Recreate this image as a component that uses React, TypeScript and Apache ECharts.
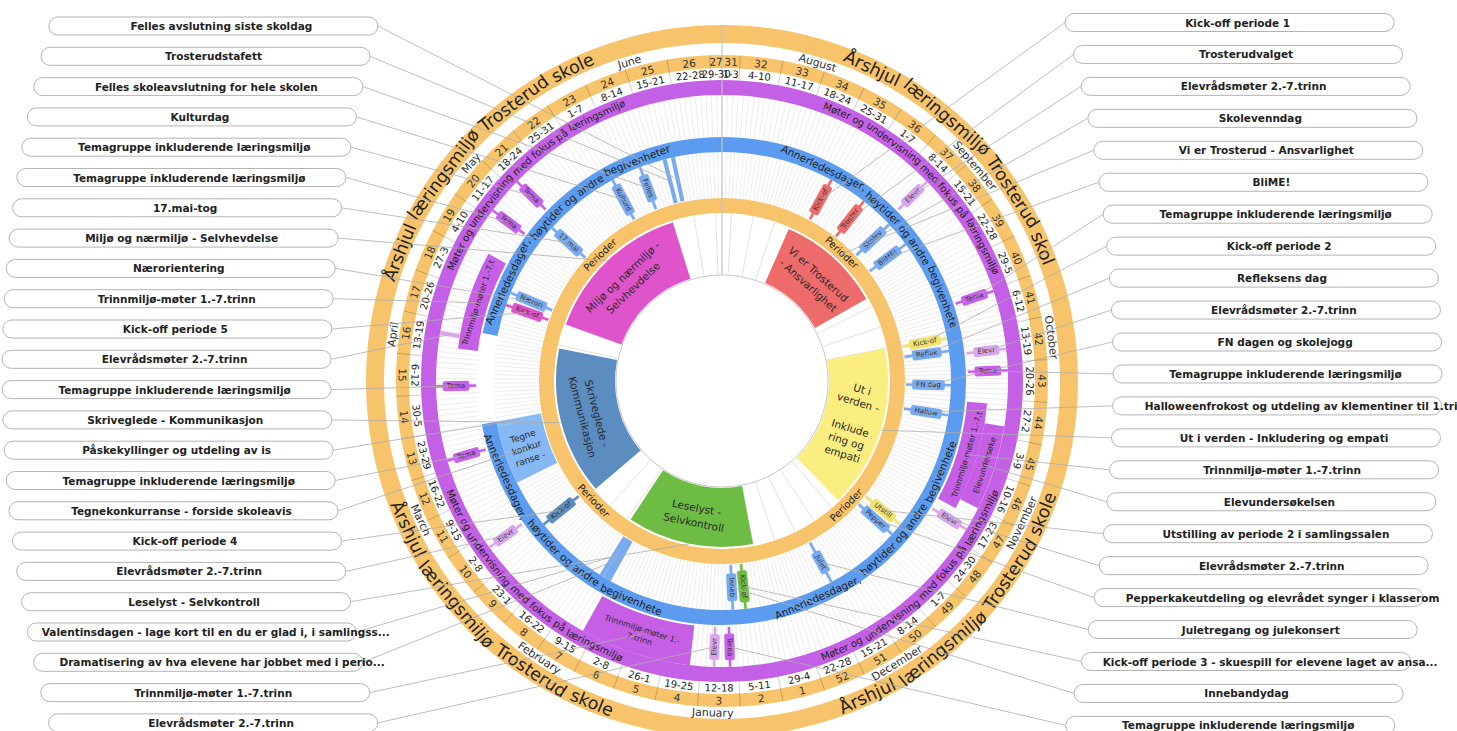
import { useEffect, useRef } from 'react';
import * as echarts from 'echarts';

// ---------------- data ----------------
const WHEEL_START_UTC = Date.UTC(2025, 7, 1); // 1 Aug 2025
const WHEEL_DAYS = 334; // up to and including 30 Jun 2026

const MONTH_NAMES = ['August', 'September', 'October', 'November', 'December', 'January', 'February', 'March', 'April', 'May', 'June'];
const MONTH_LENGTHS = [31, 30, 31, 30, 31, 31, 28, 31, 30, 31, 30];

const WEEK_NUMBERS = [31, 32, 33, 34, 35, 36, 37, 38, 39, 40, 41, 42, 43, 44, 45, 46, 47, 48, 49, 50, 51, 52, 1, 2, 3, 4, 5, 6, 7, 8, 9, 10, 11, 12, 13, 14, 15, 16, 17, 18, 19, 20, 21, 22, 23, 24, 25, 26, 27];
const WEEK_DATES = ['1-3', '4-10', '11-17', '18-24', '25-31', '1-7', '8-14', '15-21', '22-28', '29-5', '6-12', '13-19', '20-26', '27-2', '3-9', '10-16', '17-23', '24-30', '1-7', '8-14', '15-21', '22-28', '29-4', '5-11', '12-18', '19-25', '26-1', '2-8', '9-15', '16-22', '23-1', '2-8', '9-15', '16-22', '23-29', '30-5', '6-12', '13-19', '20-26', '27-3', '4-10', '11-17', '18-24', '25-31', '1-7', '8-14', '15-21', '22-28', '29-30'];

const RING_TITLE = 'Årshjul læringsmiljø Trosterud skole';
const RING_MEETINGS = 'Møter og undervisning med fokus på læringsmiljø';
const RING_SPECIAL = 'Annerledesdager, høytider og andre begivenheter';
const RING_PERIODS = 'Perioder';

const PERIOD_IDS = ['P1', 'P2', 'P3', 'P4', 'P5'];
const PERIOD_LABELS = ['Vi er Trosterud\n- Ansvarlighet', 'Ut i\nverden -\n\nInklude\nring og\nempati', 'Leselyst -\nSelvkontroll', 'Skriveglede -\nKommunikasjon', 'Miljø og nærmiljø -\nSelvhevdelse'];
const PERIOD_FIRST = ['2025-08-23', '2025-10-13', '2026-01-05', '2026-03-02', '2026-04-27'];
const PERIOD_LAST = ['2025-09-25', '2025-12-04', '2026-02-14', '2026-04-18', '2026-06-14'];

// ring "Møter og undervisning ..." : [id, kind, first day, last day, short label, lane]
const MEETING_EVENTS: [string, string, string, string, string, string][] = [
  ['elevr1', 'elevr', '2025-09-12', '2025-09-12', 'Elevr', 'full'],
  ['tema1', 'tema', '2025-10-06', '2025-10-06', 'Tema', 'full'],
  ['elevr2', 'elevr', '2025-10-17', '2025-10-17', 'Elevr', 'full'],
  ['tema2', 'tema', '2025-10-21', '2025-10-21', 'Tema', 'full'],
  ['trinn1', 'trinn', '2025-10-28', '2025-11-18', 'Trinnmiljø-møter 1.-7.t', 'inner'],
  ['elevund', 'trinn', '2025-11-01', '2025-11-16', 'Elevundersøke', 'outer'],
  ['elevr3', 'elevr', '2025-11-21', '2025-11-21', 'Elevr', 'full'],
  ['tema3', 'tema', '2026-01-13', '2026-01-13', 'Tema', 'full'],
  ['elevr4', 'elevr', '2026-01-16', '2026-01-16', 'Elevr', 'full'],
  ['trinn2', 'trinn', '2026-01-21', '2026-02-10', 'Trinnmiljø-møter 1.-\n7.trinn', 'full'],
  ['elevr5', 'elevr', '2026-03-06', '2026-03-06', 'Elevr', 'full'],
  ['tema4', 'tema', '2026-03-24', '2026-03-24', 'Tema', 'full'],
  ['tema5', 'tema', '2026-04-07', '2026-04-07', 'Tema', 'full'],
  ['trinn3', 'trinn', '2026-04-15', '2026-05-04', 'Trinnmiljø-møter 1.-7.t', 'inner'],
  ['elevr6', 'elevr', '2026-04-17', '2026-04-17', '', 'outer'],
  ['tema6', 'tema', '2026-05-12', '2026-05-12', 'Tema', 'full'],
  ['tema7', 'tema', '2026-05-19', '2026-05-19', 'Tema', 'full'],
];

// ring "Annerledesdager ..." : [id, kind, first day, last day, short label]
const SPECIAL_DAYS: [string, string, string, string, string][] = [
  ['k1', 'p1', '2025-08-27', '2025-08-27', 'Kick-of'],
  ['valget', 'p1', '2025-09-05', '2025-09-05', 'Troster'],
  ['skolev', 'event', '2025-09-13', '2025-09-13', 'Skolev'],
  ['blime', 'event', '2025-09-19', '2025-09-19', 'BliME!'],
  ['k2', 'p2', '2025-10-13', '2025-10-13', 'Kick-of'],
  ['reflek', 'event', '2025-10-16', '2025-10-16', 'Reflek'],
  ['fn', 'event', '2025-10-24', '2025-10-24', 'FN dag'],
  ['hallow', 'event', '2025-10-31', '2025-10-31', 'Hallow'],
  ['utstill', 'p2', '2025-11-28', '2025-11-28', 'Utstill'],
  ['pepper', 'event', '2025-12-01', '2025-12-01', 'Pepper'],
  ['julet', 'event', '2025-12-19', '2025-12-19', 'Julet'],
  ['k3', 'p3', '2026-01-09', '2026-01-09', 'Kick-of'],
  ['inneb', 'event', '2026-01-12', '2026-01-12', 'Inneb'],
  ['dramat', 'event', '2026-02-11', '2026-02-12', ''],
  ['valentin', 'event', '2026-02-13', '2026-02-13', ''],
  ['k4', 'p4', '2026-03-03', '2026-03-03', 'Kick-of'],
  ['tegne', 'draw', '2026-03-15', '2026-03-28', 'Tegne\nkonkur\nranse -'],
  ['paske', 'draw', '2026-03-29', '2026-03-29', ''],
  ['k5', 'p5', '2026-04-26', '2026-04-26', 'Kick-of'],
  ['naerori', 'event', '2026-04-29', '2026-04-29', 'Nærori'],
  ['mai17', 'event', '2026-05-17', '2026-05-17', '17.mai'],
  ['kultur', 'event', '2026-06-04', '2026-06-04', 'Kulturd'],
  ['felles', 'event', '2026-06-11', '2026-06-11', 'Felles'],
  ['stafett', 'event', '2026-06-17', '2026-06-17', ''],
  ['avsl', 'event', '2026-06-19', '2026-06-19', ''],
];

// callout boxes, top to bottom: [target id, text]
const CALLOUTS_LEFT: [string, string][] = [
  ['avsl', 'Felles avslutning siste skoldag'],
  ['stafett', 'Trosterudstafett'],
  ['felles', 'Felles skoleavslutning for hele skolen'],
  ['kultur', 'Kulturdag'],
  ['tema7', 'Temagruppe inkluderende læringsmiljø'],
  ['tema6', 'Temagruppe inkluderende læringsmiljø'],
  ['mai17', '17.mai-tog'],
  ['P5', 'Miljø og nærmiljø - Selvhevdelse'],
  ['naerori', 'Nærorientering'],
  ['trinn3', 'Trinnmiljø-møter 1.-7.trinn'],
  ['k5', 'Kick-off periode 5'],
  ['elevr6', 'Elevrådsmøter 2.-7.trinn'],
  ['tema5', 'Temagruppe inkluderende læringsmiljø'],
  ['P4', 'Skriveglede - Kommunikasjon'],
  ['paske', 'Påskekyllinger og utdeling av is'],
  ['tema4', 'Temagruppe inkluderende læringsmiljø'],
  ['tegne', 'Tegnekonkurranse - forside skoleavis'],
  ['k4', 'Kick-off periode 4'],
  ['elevr5', 'Elevrådsmøter 2.-7.trinn'],
  ['P3', 'Leselyst - Selvkontroll'],
  ['valentin', 'Valentinsdagen - lage kort til en du er glad i, i samlingss...'],
  ['dramat', 'Dramatisering av hva elevene har jobbet med i perio...'],
  ['trinn2', 'Trinnmiljø-møter 1.-7.trinn'],
  ['elevr4', 'Elevrådsmøter 2.-7.trinn'],
];
const CALLOUTS_RIGHT: [string, string][] = [
  ['k1', 'Kick-off periode 1'],
  ['valget', 'Trosterudvalget'],
  ['elevr1', 'Elevrådsmøter 2.-7.trinn'],
  ['skolev', 'Skolevenndag'],
  ['P1', 'Vi er Trosterud - Ansvarlighet'],
  ['blime', 'BliME!'],
  ['tema1', 'Temagruppe inkluderende læringsmiljø'],
  ['k2', 'Kick-off periode 2'],
  ['reflek', 'Refleksens dag'],
  ['elevr2', 'Elevrådsmøter 2.-7.trinn'],
  ['fn', 'FN dagen og skolejogg'],
  ['tema2', 'Temagruppe inkluderende læringsmiljø'],
  ['hallow', 'Halloweenfrokost og utdeling av klementiner til 1.tri'],
  ['P2', 'Ut i verden - Inkludering og empati'],
  ['trinn1', 'Trinnmiljø-møter 1.-7.trinn'],
  ['elevund', 'Elevundersøkelsen'],
  ['utstill', 'Utstilling av periode 2 i samlingssalen'],
  ['elevr3', 'Elevrådsmøter 2.-7.trinn'],
  ['pepper', 'Pepperkakeutdeling og elevrådet synger i klasserom'],
  ['julet', 'Juletregang og julekonsert'],
  ['k3', 'Kick-off periode 3 - skuespill for elevene laget av ansa...'],
  ['inneb', 'Innebandydag'],
  ['tema3', 'Temagruppe inkluderende læringsmiljø'],
];

// ---------------- layout & style ----------------
const FONT = '"DejaVu Sans", Verdana, sans-serif';
const CX = 722;
const CY = 381;
const R_MAX = 356;
const LR = {
  core: 106, secIn: 107, secOut: 166, perIn: 168, perOut: 183,
  blueAreaIn: 183, blueIn: 229, blueOut: 244, purpleAreaIn: 244,
  purpleIn: 286, purpleOut: 301, dateMid: 307, weekIn: 313, weekMid: 319.5, weekOut: 326,
  monthMid: 332, titleIn: 338, titleOut: 356,
};
const ORANGE = '#f7c46b';
const PURPLE = '#c460e6';
const BLUE = '#5c9cf0';
const PERIOD_COLORS = ['#ee6b6b', '#fbee80', '#6dbd44', '#5b8dc1', '#df53cb'];
const PERIOD_ORIENT = ['tan', 'rad', 'tan', 'tan', 'tan'];
const KIND_COLORS: Record<string, string> = {
  tema: '#c862e8', elevr: '#d9a6ee', trinn: '#c65fe6', event: '#78aaf2', draw: '#86b8f6',
  p1: '#ee6b6b', p2: '#f2e36c', p3: '#6dbd44', p4: '#5b8dc1', p5: '#df53cb',
};
// ring label instances: [text, radius, centre angle in degrees, reads clockwise?, font size]
const RING_LABEL_LAYOUT: [string, number, number, boolean, number][] = [
  [RING_TITLE, 347, 312.5, true, 17.5],
  [RING_TITLE.replace(/e$/, ''), 347, 45.5, true, 17.5],
  [RING_TITLE, 347, 134.5, false, 17.5],
  [RING_TITLE, 347, 224, false, 17.5],
  [RING_MEETINGS, 293.5, 316.5, true, 10],
  [RING_MEETINGS, 293.5, 44.5, true, 10],
  [RING_MEETINGS, 293.5, 136, false, 10],
  [RING_MEETINGS, 293.5, 224, false, 10],
  [RING_SPECIAL, 236.5, 315.5, true, 10.5],
  [RING_SPECIAL.replace(/r$/, ''), 236.5, 45.7, true, 10.5],
  [RING_SPECIAL.replace(/r$/, ''), 236.5, 136, false, 10.5],
  [RING_SPECIAL.replace(/r$/, ''), 236.5, 226, false, 10.5],
  [RING_PERIODS, 175.5, 316, true, 10],
  [RING_PERIODS, 175.5, 43, true, 10],
  [RING_PERIODS, 175.5, 135, false, 10],
  [RING_PERIODS, 175.5, 227, false, 10],
];
// ring bands: [r0, r1, first day, end day, colour]
const RING_BANDS: [number, number, number, number, string][] = [
  [LR.titleIn, LR.titleOut, 0, WHEEL_DAYS, ORANGE],
  [LR.weekIn, LR.weekOut, 0, WHEEL_DAYS, ORANGE],
  [LR.purpleIn, LR.purpleOut, 0, WHEEL_DAYS, PURPLE],
  [LR.blueIn, LR.blueOut, 0, 241, BLUE],
  [LR.blueIn, LR.blueOut, 261, WHEEL_DAYS, BLUE],
  [LR.perIn, LR.perOut, 0, WHEEL_DAYS, ORANGE],
];

// ---------------- helpers ----------------
const dayOf = (s: string) => {
  const [y, m, d] = s.split('-').map(Number);
  return Math.round((Date.UTC(y, m - 1, d) - WHEEL_START_UTC) / 86400000);
};

let measureCtx: CanvasRenderingContext2D | null = null;
function measure(text: string, size: number, weight = 'normal') {
  if (!measureCtx) measureCtx = document.createElement('canvas').getContext('2d');
  if (!measureCtx) return text.length * size * 0.6;
  measureCtx.font = `${weight} ${size}px ${FONT}`;
  return measureCtx.measureText(text).width;
}

function geo(api: any) {
  const c = api.coord([0, 0]);
  const P = (r: number, d: number) => api.coord([r, d]);
  const R = (r: number) => {
    const p = api.coord([r, 0]);
    return Math.hypot(p[0] - c[0], p[1] - c[1]);
  };
  const th = (d: number) => {
    const p = api.coord([200, d]);
    let t = Math.atan2(p[0] - c[0], c[1] - p[1]);
    if (t < 0) t += 2 * Math.PI;
    return t;
  };
  const za = (d: number) => {
    const p = api.coord([200, d]);
    return Math.atan2(p[1] - c[1], p[0] - c[0]);
  };
  const rpd = th(10) / 10;
  return { c, P, R, th, za, rpd };
}
type Geo = ReturnType<typeof geo>;

function sec(g: Geo, r0: number, r1: number, d0: number, d1: number, style: any) {
  const a0 = g.za(d0);
  let a1 = g.za(d1);
  while (a1 <= a0 + 1e-7) a1 += 2 * Math.PI;
  return {
    type: 'sector',
    shape: { cx: g.c[0], cy: g.c[1], r0: g.R(r0), r: g.R(r1), startAngle: a0, endAngle: a1, clockwise: true },
    style,
  };
}
function seg(g: Geo, r0: number, r1: number, d: number, stroke: string, lineWidth: number) {
  const a = g.P(r0, d);
  const b = g.P(r1, d);
  return { type: 'line', shape: { x1: a[0], y1: a[1], x2: b[0], y2: b[1] }, style: { stroke, lineWidth } };
}
function txt(x: number, y: number, rotation: number, text: string, size: number, extra: any = {}) {
  return {
    type: 'text', x, y, rotation,
    style: Object.assign({ text, fontSize: size, fontFamily: FONT, fill: '#333', align: 'center', verticalAlign: 'middle' }, extra),
  };
}
function arcWords(g: Geo, text: string, r: number, centerDay: number, upper: boolean, size: number, fill: string) {
  const words = text.split(' ');
  const sp = measure(' ', size);
  const ws = words.map((w) => measure(w, size));
  const total = ws.reduce((a, b) => a + b, 0) + sp * (words.length - 1);
  const rpx = g.R(r);
  let s = -total / 2;
  return words.map((w, i) => {
    const off = s + ws[i] / 2;
    s += ws[i] + sp;
    const dd = off / rpx / g.rpd;
    const d = upper ? centerDay + dd : centerDay - dd;
    const p = g.P(r, d);
    const t = g.th(d);
    return txt(p[0], p[1], upper ? -t : Math.PI - t, w, size, { fill });
  });
}
const tickRot = (t: number) => {
  const deg = (t * 180) / Math.PI;
  return deg >= 114 && deg <= 275 ? Math.PI - t : -t;
};
const radialRot = (t: number) => (t < Math.PI ? Math.PI / 2 - t : (3 * Math.PI) / 2 - t);
const tanRot = (t: number) => (t > Math.PI / 2 && t < (3 * Math.PI) / 2 ? Math.PI - t : -t);

type Ev = { id: string; ring: 'P' | 'B'; kind: string; first: number; last: number; tag: string; lane: string };
const EVENTS: Ev[] = [
  ...MEETING_EVENTS.map(([id, kind, a, b, tag, lane]) => ({ id, ring: 'P' as const, kind, first: dayOf(a), last: dayOf(b), tag, lane })),
  ...SPECIAL_DAYS.map(([id, kind, a, b, tag]) => ({ id, ring: 'B' as const, kind, first: dayOf(a), last: dayOf(b), tag, lane: 'full' })),
];
function laneOf(ev: Ev): [number, number] {
  if (ev.ring === 'B') return [184, LR.blueIn];
  if (ev.lane === 'inner') return [246, 266];
  if (ev.lane === 'outer') return [266, LR.purpleIn];
  return [246, LR.purpleIn];
}
function targetOf(id: string): [number, number] {
  const pi = PERIOD_IDS.indexOf(id);
  if (pi >= 0) return [LR.secOut, (dayOf(PERIOD_FIRST[pi]) + dayOf(PERIOD_LAST[pi]) + 1) / 2];
  const ev = EVENTS.find((e) => e.id === id)!;
  const [r0, r1] = laneOf(ev);
  return [(r0 + r1) / 2, (ev.first + ev.last + 1) / 2];
}

type Callout = { side: 'L' | 'R'; row: number; id: string; text: string };
const CALLOUTS: Callout[] = [
  ...CALLOUTS_LEFT.map(([id, text], row) => ({ side: 'L' as const, row, id, text })),
  ...CALLOUTS_RIGHT.map(([id, text], row) => ({ side: 'R' as const, row, id, text })),
];
const BOX_W = 329;
const BOX_H = 18;
function boxOf(c: Callout) {
  const y = c.side === 'L' ? 26 + 30.3 * c.row : 22.5 + 31.95 * c.row;
  const bulge = 1322 - Math.sqrt(1322 * 1322 - (y - 375) * (y - 375));
  const x1 = c.side === 'L' ? 331 + bulge - BOX_W : 1113 - bulge;
  return { x1, x2: x1 + BOX_W, y };
}

function buildOption() {
  const monthStarts: number[] = [];
  MONTH_LENGTHS.reduce((acc, n) => {
    monthStarts.push(acc);
    return acc + n;
  }, 0);
  const weekSpan = (i: number) => [Math.max(0, 7 * i - 4), Math.min(WHEEL_DAYS, 7 * i + 3)];

  const base = { type: 'custom', coordinateSystem: 'polar', silent: true, animation: false };

  return {
    animation: false,
    backgroundColor: '#ffffff',
    polar: { center: [CX, CY], radius: R_MAX },
    angleAxis: { type: 'value', min: 0, max: WHEEL_DAYS, startAngle: 90, clockwise: true, show: false },
    radiusAxis: { type: 'value', min: 0, max: R_MAX, show: false },
    series: [
      // grid lines (one per day / week)
      {
        ...base,
        data: Array.from({ length: WHEEL_DAYS }, (_, d) => [LR.blueAreaIn, d]),
        renderItem: (params: any, api: any) => {
          const g = geo(api);
          const d = params.dataIndex;
          const ch: any[] = [
            seg(g, LR.purpleAreaIn, LR.purpleIn, d, '#e0e0e0', 0.6),
            seg(g, LR.blueAreaIn, LR.blueIn, d, '#e0e0e0', 0.6),
          ];
          if ((d + 4) % 7 === 0) ch.push(seg(g, LR.core, LR.perIn, d, '#dadada', 0.8));
          return { type: 'group', children: ch };
        },
      },
      // ring bands
      {
        ...base,
        data: RING_BANDS.map((b) => [b[0], b[2]]),
        renderItem: (params: any, api: any) => {
          const g = geo(api);
          const [r0, r1, d0, d1, color] = RING_BANDS[params.dataIndex];
          return sec(g, r0, r1, d0, d1, { fill: color });
        },
      },
      // periods
      {
        ...base,
        data: PERIOD_IDS.map((_, i) => [LR.secOut, dayOf(PERIOD_FIRST[i])]),
        renderItem: (params: any, api: any) => {
          const g = geo(api);
          const i = params.dataIndex;
          const d0 = dayOf(PERIOD_FIRST[i]);
          const d1 = dayOf(PERIOD_LAST[i]) + 1;
          const mid = (d0 + d1) / 2;
          const rm = (LR.secIn + LR.secOut) / 2;
          const p = g.P(rm, mid);
          const t = g.th(mid);
          const rot = PERIOD_ORIENT[i] === 'rad' ? radialRot(t) : tanRot(t);
          return {
            type: 'group',
            children: [
              sec(g, LR.secIn, LR.secOut, d0, d1, { fill: PERIOD_COLORS[i] }),
              txt(p[0], p[1], rot, PERIOD_LABELS[i], 10.5, { lineHeight: PERIOD_ORIENT[i] === 'rad' ? 13.5 : 15, fill: '#2a2a2a' }),
            ],
          };
        },
      },
      // inner border, split line, week separators
      {
        ...base,
        data: WEEK_NUMBERS.map((_, i) => [LR.weekIn, weekSpan(i)[0]]),
        renderItem: (params: any, api: any) => {
          const g = geo(api);
          const i = params.dataIndex;
          const [d0] = weekSpan(i);
          const ch: any[] = [];
          if (i === 0) {
            ch.push({ type: 'circle', shape: { cx: g.c[0], cy: g.c[1], r: g.R(LR.core) }, style: { fill: 'none', stroke: '#c8c8c8', lineWidth: 1 } });
            ch.push(seg(g, LR.core, LR.titleOut, 0, '#c4c4c4', 1.2));
          } else {
            ch.push(seg(g, LR.purpleOut, LR.weekOut, d0, 'rgba(0,0,0,0.28)', 0.7));
          }
          return { type: 'group', children: ch };
        },
      },
      // ring labels
      {
        ...base,
        data: RING_LABEL_LAYOUT.map((l) => [l[1], (l[2] / 360) * WHEEL_DAYS]),
        renderItem: (params: any, api: any) => {
          const g = geo(api);
          const [text, r, deg, upper, size] = RING_LABEL_LAYOUT[params.dataIndex];
          return { type: 'group', children: arcWords(g, text, r, (deg / 360) * WHEEL_DAYS, upper, size, '#222') };
        },
      },
      // week numbers and date ranges
      {
        ...base,
        data: WEEK_NUMBERS.map((_, i) => [LR.weekMid, (weekSpan(i)[0] + weekSpan(i)[1]) / 2]),
        renderItem: (params: any, api: any) => {
          const g = geo(api);
          const i = params.dataIndex;
          const [d0, d1] = weekSpan(i);
          const mid = (d0 + d1) / 2;
          const t = g.th(mid);
          const rot = tickRot(t);
          const p1 = g.P(LR.weekMid, mid);
          const p2 = g.P(LR.dateMid, mid);
          return {
            type: 'group',
            children: [
              txt(p1[0], p1[1], rot, String(WEEK_NUMBERS[i]), 10.5, { fill: '#333' }),
              txt(p2[0], p2[1], rot, WEEK_DATES[i], 10, { fill: '#222' }),
            ],
          };
        },
      },
      // month names
      {
        ...base,
        data: MONTH_NAMES.map((_, i) => [LR.monthMid, monthStarts[i] + MONTH_LENGTHS[i] / 2]),
        renderItem: (params: any, api: any) => {
          const g = geo(api);
          const i = params.dataIndex;
          const mid = monthStarts[i] + MONTH_LENGTHS[i] / 2;
          const p = g.P(LR.monthMid, mid);
          return txt(p[0], p[1], tickRot(g.th(mid)), MONTH_NAMES[i], 11, { fill: '#333' });
        },
      },
      // events
      {
        ...base,
        data: EVENTS.map((e) => [laneOf(e)[0], e.first]),
        renderItem: (params: any, api: any) => {
          const g = geo(api);
          const ev = EVENTS[params.dataIndex];
          const [r0, r1] = laneOf(ev);
          const color = KIND_COLORS[ev.kind];
          if (ev.last > ev.first) {
            const ch: any[] = [sec(g, r0, r1, ev.first, ev.last + 1, { fill: color })];
            if (ev.tag) {
              const mid = (ev.first + ev.last + 1) / 2;
              const p = g.P((r0 + r1) / 2, mid);
              const t = g.th(mid);
              const rot = ev.kind === 'draw' ? radialRot(t) : tanRot(t);
              ch.push(txt(p[0], p[1], rot, ev.tag, ev.kind === 'draw' ? 9 : 8, { lineHeight: ev.kind === 'draw' ? 12 : 10, fill: '#2a2a2a' }));
            }
            return { type: 'group', children: ch };
          }
          const d = ev.first + 0.5;
          const ch: any[] = [seg(g, r0, r1, d, color, ev.tag ? 2.6 : 4)];
          if (ev.tag) {
            const len = measure(ev.tag, 7) + 8;
            const p = g.P((r0 + r1) / 2, d);
            const rot = radialRot(g.th(d));
            ch.push({
              type: 'group', x: p[0], y: p[1], rotation: rot,
              children: [
                { type: 'rect', shape: { x: -len / 2, y: -5, width: len, height: 10, r: 2 }, style: { fill: color } },
                txt(0, 0, 0, ev.tag, 7, { fill: '#333' }),
              ],
            });
          }
          return { type: 'group', children: ch };
        },
      },
      // callout lines
      {
        ...base,
        data: CALLOUTS.map((c) => targetOf(c.id)),
        renderItem: (params: any, api: any) => {
          const c = CALLOUTS[params.dataIndex];
          const [r, d] = targetOf(c.id);
          const p = api.coord([r, d]);
          const b = boxOf(c);
          const x = c.side === 'L' ? b.x2 : b.x1;
          return { type: 'line', shape: { x1: x, y1: b.y, x2: p[0], y2: p[1] }, style: { stroke: '#adadad', lineWidth: 0.8 } };
        },
      },
      // callout boxes
      {
        ...base,
        data: CALLOUTS.map((c) => targetOf(c.id)),
        renderItem: (params: any) => {
          const c = CALLOUTS[params.dataIndex];
          const b = boxOf(c);
          const w = measure(c.text, 10.5, 'bold');
          const cx = (b.x1 + b.x2) / 2 + (w > 300 ? 24 : 8);
          return {
            type: 'group',
            children: [
              { type: 'rect', shape: { x: b.x1, y: b.y - BOX_H / 2, width: BOX_W, height: BOX_H, r: 9 }, style: { fill: '#ffffff', stroke: '#b4b4b4', lineWidth: 1 } },
              txt(cx, b.y, 0, c.text, 10.5, { fontWeight: 'bold', fill: '#222' }),
            ],
          };
        },
      },
    ],
  };
}

export default function App() {
  const ref = useRef<HTMLDivElement>(null);
  useEffect(() => {
    if (!ref.current) return;
    const chart = echarts.init(ref.current, null, { renderer: 'svg' });
    chart.setOption(buildOption() as any);
    return () => chart.dispose();
  }, []);
  return <div ref={ref} style={{ position: 'fixed', left: 0, top: 0, width: 1457, height: 731, background: '#ffffff' }} />;
}
